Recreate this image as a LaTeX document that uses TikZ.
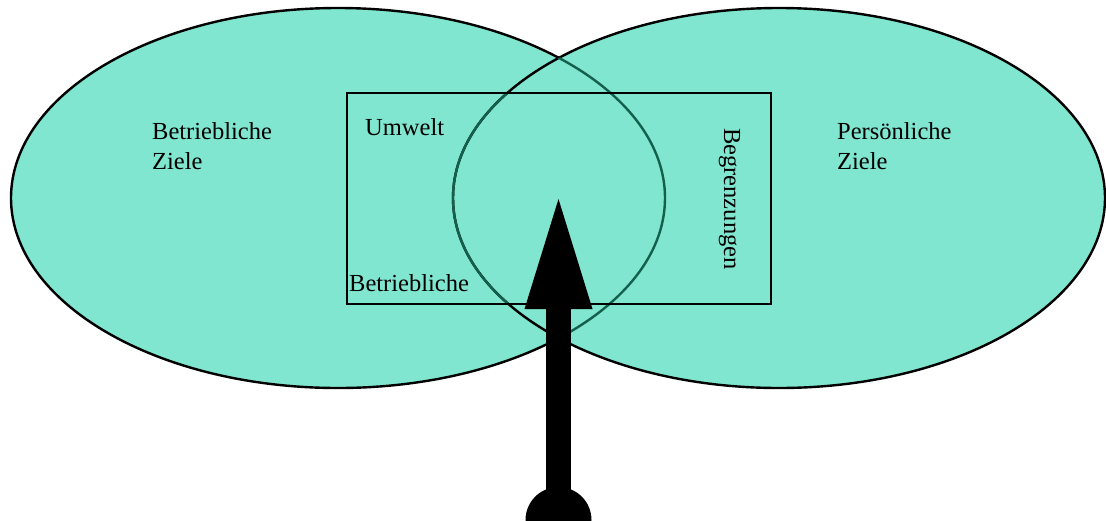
\documentclass[tikz,border=0pt]{standalone}
\usepackage{fontspec}
\setmainfont{Liberation Serif}
\usetikzlibrary{arrows.meta}
\definecolor{Mint}{HTML}{80E6CF}
\definecolor{Pine}{HTML}{14604C}

\tikzset{
  zone/.style={fill=Mint,draw=black,line width=2.4pt},
  txt/.style={font=\fontsize{24.5}{30}\selectfont,inner sep=0pt,align=left,text=black}
}

\begin{document}
\begin{tikzpicture}[x=1pt,y=-1pt]
\useasboundingbox (0,0) rectangle (1106,520);
% the two goal ellipses
\path[zone] (338,198) ellipse [x radius=327,y radius=190];
\path[zone] (779,198) ellipse [x radius=326,y radius=190];
\begin{scope}
  \clip (779,198) ellipse [x radius=326,y radius=190];
  \draw[Pine,line width=2.4pt] (338,198) ellipse [x radius=327,y radius=190];
\end{scope}
\begin{scope}
  \clip (347,93) rectangle (771,304);
  \draw[Pine,line width=2.4pt] (779,198) ellipse [x radius=326,y radius=190];
\end{scope}
% frame of the environment
\draw[black,line width=2.4pt] (347,93) rectangle (771,304);
\node[txt,anchor=base west] (betz) at (152,169) {Betriebliche\\Ziele};
\node[txt,anchor=base west] (perz) at (837,169) {Persönliche\\Ziele};
\node[txt,anchor=base west] (umw) at (365,135) {Umwelt};
\node[txt,anchor=base west] (betr) at (349,291) {Betriebliche};
\node[txt,anchor=base west,rotate=-90] (begr) at (724,128) {Begrenzungen};
% the pushing arrow
\coordinate (foot) at (558.5,520);
\coordinate (tip) at (558.5,199);
\fill (foot) circle [radius=33];
\draw[line width=25pt,-{Triangle[length=110pt,width=68pt,line width=0pt]}] (foot) -- (tip);
\end{tikzpicture}
\end{document}
